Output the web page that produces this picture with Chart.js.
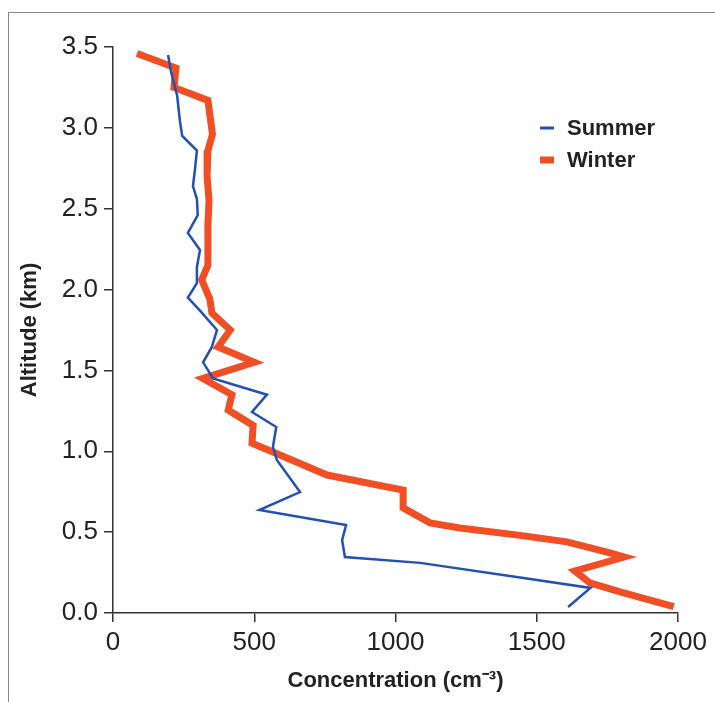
<!DOCTYPE html>
<html>
<head>
<meta charset="utf-8">
<script src="https://cdn.jsdelivr.net/npm/chart.js@4"></script>
<style>
  body { margin: 0; background: #fff; }
  #wrap { position: relative; width: 715px; height: 702px; }
  #frame { position: absolute; left: 8px; top: 12px; right: 0; bottom: 0;
           border-top: 1.5px solid #888; border-left: 1.5px solid #888; pointer-events: none; }
</style>
</head>
<body>
<div id="wrap">
  <canvas id="profileChart" width="715" height="702"></canvas>
  <div id="frame"></div>
</div>
<script>
// values (concentration cm^-3, altitude km)
const summerConc = [195, 205, 227, 237, 245, 297, 290, 283, 297, 300, 265, 308, 297, 297, 265, 308, 368, 350, 319, 354, 545, 492, 578, 566, 580, 662, 518, 825, 811, 821, 1087, 1441, 1690, 1611];
const summerAlt  = [3.45, 3.35, 3.20, 3.04, 2.95, 2.86, 2.74, 2.64, 2.56, 2.46, 2.35, 2.245, 2.14, 2.04, 1.95, 1.87, 1.75, 1.645, 1.55, 1.45, 1.35, 1.243, 1.15, 1.027, 0.946, 0.748, 0.637, 0.544, 0.45, 0.346, 0.31, 0.22, 0.155, 0.037];

const winterConc = [85, 223, 216, 336, 352, 336, 333, 340, 336, 336, 336, 314, 343, 350, 415, 372, 500, 318, 421, 408, 496, 492, 566, 758, 1027, 1027, 1122, 1228, 1441, 1607, 1749, 1810, 1635, 1688, 1795, 1985];
const winterAlt  = [3.46, 3.37, 3.25, 3.17, 2.96, 2.86, 2.70, 2.55, 2.40, 2.25, 2.15, 2.06, 1.94, 1.855, 1.75, 1.645, 1.55, 1.45, 1.35, 1.255, 1.16, 1.05, 0.996, 0.853, 0.76, 0.65, 0.557, 0.526, 0.48, 0.44, 0.377, 0.346, 0.26, 0.186, 0.13, 0.04];

const xTicks = [0, 500, 1000, 1500, 2000];
const yTicks = [0.0, 0.5, 1.0, 1.5, 2.0, 2.5, 3.0, 3.5];

const seriesNames = ['Summer', 'Winter'];
const blue = '#2350b4';
const red = '#f04e24';

function toPoints(xs, ys) {
    return xs.map((x, i) => ({ x: x, y: ys[i] }));
}

const tickFont = { family: "'Liberation Sans', Arial, sans-serif", size: 26 };
const titleFont = { family: "'Liberation Sans', Arial, sans-serif", size: 22, weight: 'bold' };

// legend drawn inside the plot, upper right
const insideLegend = {
    id: 'insideLegend',
    afterDatasetsDraw(chart) {
        const ctx = chart.ctx;
        const rows = [
            { label: seriesNames[0], color: blue, width: 3, y: 128 },
            { label: seriesNames[1], color: red, width: 7, y: 160 }
        ];
        ctx.save();
        ctx.font = "bold 22px 'Liberation Sans', Arial, sans-serif";
        ctx.textBaseline = 'middle';
        rows.forEach(r => {
            ctx.strokeStyle = r.color;
            ctx.lineWidth = r.width;
            ctx.beginPath();
            ctx.moveTo(540, r.y);
            ctx.lineTo(554, r.y);
            ctx.stroke();
            ctx.fillStyle = '#222';
            ctx.fillText(r.label, 567, r.y + 1);
        });
        ctx.restore();
    }
};

new Chart(document.getElementById('profileChart'), {
    type: 'line',
    data: {
        datasets: [
            {
                label: seriesNames[0],
                data: toPoints(summerConc, summerAlt),
                borderColor: blue,
                borderWidth: 2.5,
                pointRadius: 0,
                tension: 0,
                borderJoinStyle: 'miter',
                clip: false
            },
            {
                label: seriesNames[1],
                data: toPoints(winterConc, winterAlt),
                borderColor: red,
                borderWidth: 7,
                pointRadius: 0,
                tension: 0,
                borderJoinStyle: 'miter',
                clip: false
            }
        ]
    },
    options: {
        responsive: false,
        animation: false,
        layout: { padding: { left: 0, right: 37, top: 47, bottom: 0 } },
        plugins: {
            legend: { display: false },
            tooltip: { enabled: false }
        },
        scales: {
            x: {
                type: 'linear',
                min: 0,
                max: 2000,
                afterBuildTicks: (scale) => { scale.ticks = xTicks.map(v => ({ value: v })); },
                afterFit: (scale) => { scale.height = 89; },
                grid: { display: true, drawOnChartArea: false, drawTicks: true, tickLength: 9, color: '#333', lineWidth: 1.5 },
                border: { display: true, color: '#333', width: 1.5 },
                ticks: { color: '#222', font: tickFont, padding: 5, maxRotation: 0, autoSkip: false, callback: (v) => String(v) },
                title: { display: true, text: 'Concentration (cm\u207B\u00B3)', color: '#222', font: titleFont, padding: { top: 0, bottom: 8 } }
            },
            y: {
                type: 'linear',
                min: 0,
                max: 3.5,
                afterBuildTicks: (scale) => { scale.ticks = yTicks.map(v => ({ value: v })); },
                afterFit: (scale) => { scale.width = 113; },
                grid: { display: true, drawOnChartArea: false, drawTicks: true, tickLength: 9, color: '#333', lineWidth: 1.5 },
                border: { display: true, color: '#333', width: 1.5 },
                ticks: { color: '#222', font: tickFont, padding: 6, autoSkip: false, callback: (v) => Number(v).toFixed(1) },
                title: { display: true, text: 'Altitude (km)', color: '#222', font: titleFont, padding: { top: 17, bottom: 0 } }
            }
        }
    },
    plugins: [insideLegend]
});
</script>
</body>
</html>
